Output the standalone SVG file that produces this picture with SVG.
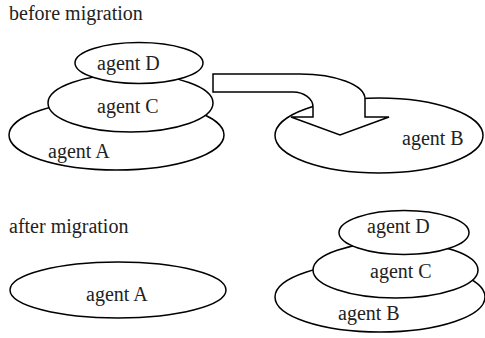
<svg xmlns="http://www.w3.org/2000/svg" width="485" height="338" viewBox="0 0 485 338">
  <style>
    .shape { fill: #ffffff; stroke: #000000; stroke-width: 1.5; }
    .label { font-family: "Liberation Serif", "Times New Roman", serif; font-size: 20px; fill: #222222; }
  </style>
  <rect width="485" height="338" fill="#ffffff"/>

  <!-- captions -->
  <text class="label" x="9" y="20">before migration</text>
  <text class="label" x="9" y="233">after migration</text>

  <!-- before migration: stack on host A -->
  <g id="before-agent-A">
    <ellipse class="shape" cx="116.5" cy="135" rx="107.5" ry="35"/>
    <text class="label" x="48" y="158">agent A</text>
  </g>
  <g id="before-agent-C">
    <ellipse class="shape" cx="130.5" cy="103" rx="82.5" ry="29"/>
    <text class="label" x="97" y="113">agent C</text>
  </g>
  <g id="before-agent-D">
    <ellipse class="shape" cx="139" cy="63" rx="64" ry="20.5"/>
    <text class="label" x="97" y="70">agent D</text>
  </g>

  <!-- before migration: host B -->
  <g id="before-agent-B">
    <ellipse class="shape" cx="379" cy="135.5" rx="104" ry="37.5"/>
    <text class="label" x="402" y="145">agent B</text>
  </g>

  <!-- migration arrow -->
  <g id="connectors">
    <path class="shape" d="M213,74 H300 A65,25 0 0 1 365,99 V117 H389 L340,135 L291,117 H313 V107 A20,15 0 0 0 293,92 H213 Z"/>
  </g>

  <!-- after migration: host A -->
  <g id="after-agent-A">
    <ellipse class="shape" cx="118" cy="290" rx="108" ry="28"/>
    <text class="label" x="86" y="301">agent A</text>
  </g>

  <!-- after migration: stack on host B -->
  <g id="after-agent-B">
    <ellipse class="shape" cx="380" cy="297" rx="105" ry="35"/>
    <text class="label" x="338" y="320">agent B</text>
  </g>
  <g id="after-agent-C">
    <ellipse class="shape" cx="395.5" cy="270" rx="82.5" ry="28"/>
    <text class="label" x="370" y="278">agent C</text>
  </g>
  <g id="after-agent-D">
    <ellipse class="shape" cx="404" cy="232.5" rx="65" ry="22"/>
    <text class="label" x="367" y="233">agent D</text>
  </g>
</svg>
